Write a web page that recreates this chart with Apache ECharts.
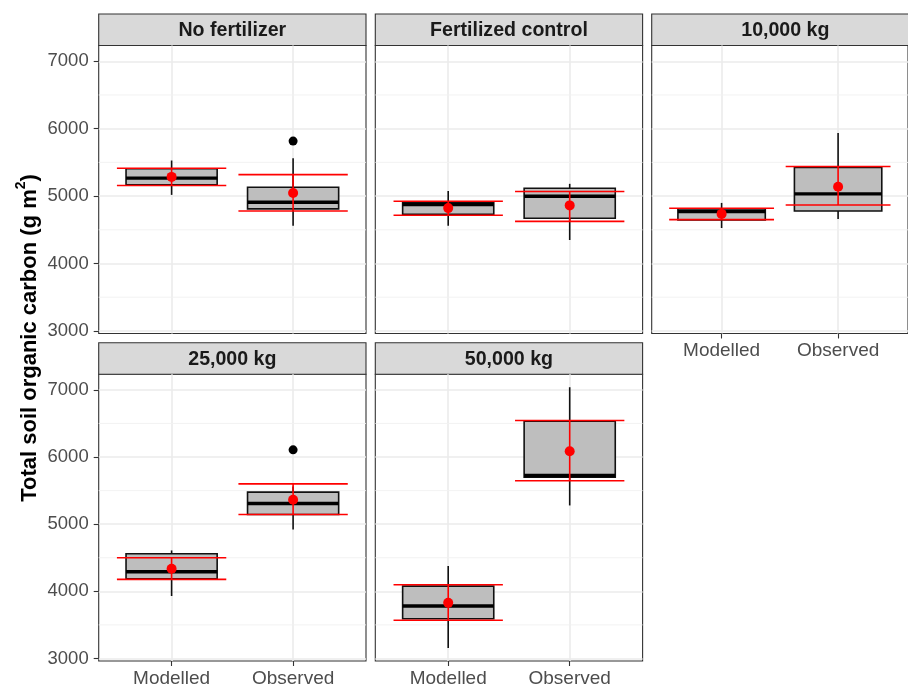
<!DOCTYPE html>
<html>
<head>
<meta charset="utf-8">
<script src="https://cdn.jsdelivr.net/npm/echarts@6/dist/echarts.min.js"></script>
<style>
  html, body { margin: 0; padding: 0; background: #ffffff; }
  #chart { width: 908px; height: 688px; }
</style>
</head>
<body>
<div id="chart"></div>
<script>
// Categories and facet titles
const categories = ['Modelled', 'Observed'];
const panelTitles = ['No fertilizer', 'Fertilized control', '10,000 kg', '25,000 kg', '50,000 kg'];
const yTicks = [3000, 4000, 5000, 6000, 7000];
const yMinorTicks = [3500, 4500, 5500, 6500];

// Box summaries per treatment: [lower whisker, Q1, median, Q3, upper whisker] for Modelled, Observed
const boxNoFertilizer = [[5018, 5167, 5266, 5405, 5528], [4562, 4810, 4909, 5132, 5563]];
const boxFertControl = [[4562, 4731, 4875, 4905, 5077], [4349, 4671, 4998, 5117, 5182]];
const box10000 = [[4527, 4646, 4770, 4810, 4899], [4661, 4780, 5033, 5424, 5935]];
const box25000 = [[3930, 4188, 4292, 4560, 4609], [4922, 5145, 5309, 5477, 5560]];
const box50000 = [[3156, 3592, 3781, 4078, 4376], [5279, 5700, 5725, 6534, 7040]];

// Means with error bar limits (Modelled, Observed)
const meanNoFertilizer = [5285, 5045];
const errLowNoFertilizer = [5157, 4780];
const errHighNoFertilizer = [5414, 5318];

const meanFertControl = [4822, 4862];
const errLowFertControl = [4716, 4625];
const errHighFertControl = [4924, 5068];

const mean10000 = [4736, 5140];
const errLow10000 = [4651, 4869];
const errHigh10000 = [4820, 5439];

const mean25000 = [4335, 5365];
const errLow25000 = [4178, 5145];
const errHigh25000 = [4500, 5601];

const mean50000 = [3828, 6085];
const errLow50000 = [3568, 5646];
const errHigh50000 = [4098, 6544];

// Outlying observations (Modelled, Observed)
const outliersNoFertilizer = [[], [5816]];
const outliersFertControl = [[], []];
const outliers10000 = [[], []];
const outliers25000 = [[], [6107]];
const outliers50000 = [[], []];

const panelSets = [
  { box: boxNoFertilizer, mean: meanNoFertilizer, lo: errLowNoFertilizer, hi: errHighNoFertilizer, out: outliersNoFertilizer },
  { box: boxFertControl, mean: meanFertControl, lo: errLowFertControl, hi: errHighFertControl, out: outliersFertControl },
  { box: box10000, mean: mean10000, lo: errLow10000, hi: errHigh10000, out: outliers10000 },
  { box: box25000, mean: mean25000, lo: errLow25000, hi: errHigh25000, out: outliers25000 },
  { box: box50000, mean: mean50000, lo: errLow50000, hi: errHigh50000, out: outliers50000 }
];

// Facet layout
const FONT = "'Liberation Sans', Arial, Helvetica, sans-serif";
const colLeft = [98.7, 375.3, 651.7];
const panelW = 267.3;
const stripTop = [14, 342.7];
const stripH = 31.5;
const plotH = [288, 287.7];
const Y_MIN = 2962, Y_MAX = 7234;
const X_MIN = 0.4, X_MAX = 2.6;
const BOX_HALF = 0.375, CAP_HALF = 0.45;

const grids = [], xAxes = [], yAxes = [], series = [], graphics = [];

panelSets.forEach((p, i) => {
  const row = i < 3 ? 0 : 1;
  const col = i < 3 ? i : i - 3;
  const showX = i >= 2;
  const showY = col === 0;

  grids.push({
    left: colLeft[col], top: stripTop[row] + stripH, width: panelW, height: plotH[row],
    show: true, backgroundColor: '#ffffff', borderColor: '#333333', borderWidth: 1.1,
    containLabel: false
  });

  xAxes.push({
    type: 'value', gridIndex: i, min: X_MIN, max: X_MAX,
    axisLine: { show: false },
    axisTick: { show: showX, customValues: [1, 2], length: 5, lineStyle: { color: '#333333', width: 1.1 } },
    axisLabel: {
      show: showX, customValues: [1, 2], margin: 8,
      formatter: v => categories[Math.round(v) - 1],
      fontSize: 19, color: '#4d4d4d', fontFamily: FONT
    },
    splitLine: { show: true, lineStyle: { color: '#ebebeb', width: 1.6 } }
  });

  yAxes.push({
    type: 'value', gridIndex: i, min: Y_MIN, max: Y_MAX,
    axisLine: { show: false },
    axisTick: { show: showY, customValues: yTicks, length: 5, lineStyle: { color: '#333333', width: 1.1 } },
    axisLabel: {
      show: showY, customValues: yTicks, margin: 10,
      formatter: v => String(v),
      fontSize: 18.5, color: '#4d4d4d', fontFamily: FONT
    },
    splitLine: { show: true, lineStyle: { color: '#ebebeb', width: 1.6 } }
  });

  // minor horizontal grid lines
  series.push({
    type: 'custom', xAxisIndex: i, yAxisIndex: i, z: 1, silent: true,
    data: yMinorTicks.map(v => [v]),
    encode: { y: 0 },
    renderItem: (params, api) => {
      const a = api.coord([X_MIN, api.value(0)]);
      const b = api.coord([X_MAX, api.value(0)]);
      return { type: 'line', shape: { x1: a[0], y1: a[1], x2: b[0], y2: b[1] },
               style: { stroke: '#f0f0f0', lineWidth: 0.9 } };
    }
  });

  // box and whiskers
  series.push({
    type: 'custom', xAxisIndex: i, yAxisIndex: i, z: 2, silent: true,
    data: p.box.map((b, k) => [k + 1].concat(b)),
    encode: { x: 0, y: [1, 2, 3, 4, 5] },
    renderItem: (params, api) => {
      const x = api.value(0);
      const lo = api.coord([x, api.value(1)]);
      const q1 = api.coord([x, api.value(2)]);
      const q3 = api.coord([x, api.value(4)]);
      const hi = api.coord([x, api.value(5)]);
      const tl = api.coord([x - BOX_HALF, api.value(4)]);
      const br = api.coord([x + BOX_HALF, api.value(2)]);
      const ml = api.coord([x - BOX_HALF, api.value(3)]);
      const mr = api.coord([x + BOX_HALF, api.value(3)]);
      const ink = '#111111';
      return {
        type: 'group',
        children: [
          { type: 'line', shape: { x1: lo[0], y1: lo[1], x2: q1[0], y2: q1[1] }, style: { stroke: ink, lineWidth: 1.6 } },
          { type: 'line', shape: { x1: q3[0], y1: q3[1], x2: hi[0], y2: hi[1] }, style: { stroke: ink, lineWidth: 1.6 } },
          { type: 'rect', shape: { x: tl[0], y: tl[1], width: br[0] - tl[0], height: br[1] - tl[1] },
            style: { fill: '#bebebe', stroke: ink, lineWidth: 1.6 } },
          { type: 'line', shape: { x1: ml[0], y1: ml[1], x2: mr[0], y2: mr[1] }, style: { stroke: '#000000', lineWidth: 3.4 } }
        ]
      };
    }
  });

  // outliers
  const outPts = [];
  p.out.forEach((vals, k) => vals.forEach(v => outPts.push([k + 1, v])));
  series.push({
    type: 'scatter', xAxisIndex: i, yAxisIndex: i, z: 3, silent: true,
    data: outPts, symbolSize: 9, itemStyle: { color: '#000000', opacity: 1 }
  });

  // error bars around the mean
  series.push({
    type: 'custom', xAxisIndex: i, yAxisIndex: i, z: 4, silent: true,
    data: p.mean.map((m, k) => [k + 1, p.lo[k], p.hi[k]]),
    encode: { x: 0, y: [1, 2] },
    renderItem: (params, api) => {
      const x = api.value(0);
      const a = api.coord([x, api.value(1)]);
      const b = api.coord([x, api.value(2)]);
      const l1 = api.coord([x - CAP_HALF, api.value(1)]);
      const r1 = api.coord([x + CAP_HALF, api.value(1)]);
      const l2 = api.coord([x - CAP_HALF, api.value(2)]);
      const r2 = api.coord([x + CAP_HALF, api.value(2)]);
      const st = { stroke: '#ff0000', lineWidth: 1.6 };
      return {
        type: 'group',
        children: [
          { type: 'line', shape: { x1: a[0], y1: a[1], x2: b[0], y2: b[1] }, style: st },
          { type: 'line', shape: { x1: l1[0], y1: l1[1], x2: r1[0], y2: r1[1] }, style: st },
          { type: 'line', shape: { x1: l2[0], y1: l2[1], x2: r2[0], y2: r2[1] }, style: st }
        ]
      };
    }
  });

  // means
  series.push({
    type: 'scatter', xAxisIndex: i, yAxisIndex: i, z: 5, silent: true,
    data: p.mean.map((m, k) => [k + 1, m]), symbolSize: 10, itemStyle: { color: '#ff0000', opacity: 1 }
  });

  // facet strip
  graphics.push({
    type: 'rect', silent: true,
    shape: { x: colLeft[col], y: stripTop[row], width: panelW, height: stripH },
    style: { fill: '#d9d9d9', stroke: '#333333', lineWidth: 1.1 }
  });
  graphics.push({
    type: 'text', silent: true,
    x: colLeft[col] + panelW / 2, y: stripTop[row] + stripH / 2 + 1,
    style: {
      text: panelTitles[i], fill: '#1a1a1a', fontSize: 19.6, fontWeight: 'bold',
      fontFamily: FONT, align: 'center', verticalAlign: 'middle'
    }
  });
});

// y-axis title
graphics.push({
  type: 'text', silent: true, x: 30, y: 338, rotation: Math.PI / 2,
  style: {
    text: '{t|Total soil organic carbon (g m}{s|2}{t|)}',
    align: 'center', verticalAlign: 'middle',
    rich: {
      t: { fontSize: 22, fontWeight: 'bold', fontFamily: FONT, fill: '#000000', lineHeight: 31 },
      s: { fontSize: 14, fontWeight: 'bold', fontFamily: FONT, fill: '#000000', verticalAlign: 'top', lineHeight: 15 }
    }
  }
});

const chart = echarts.init(document.getElementById('chart'), null, { renderer: 'canvas' });
chart.setOption({
  animation: false,
  backgroundColor: '#ffffff',
  grid: grids,
  xAxis: xAxes,
  yAxis: yAxes,
  series: series,
  graphic: graphics
});
</script>
</body>
</html>
